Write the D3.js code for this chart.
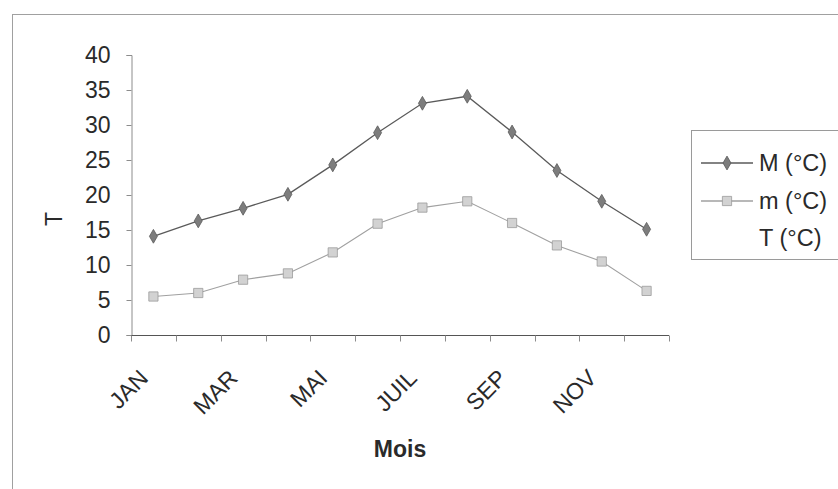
<!DOCTYPE html>
<html>
<head>
<meta charset="utf-8">
<script src="https://cdn.jsdelivr.net/npm/d3@7/dist/d3.min.js"></script>
<style>
  html, body { margin: 0; padding: 0; background: #fff; }
  svg { display: block; font-family: "Liberation Sans", Arial, sans-serif; }
</style>
</head>
<body>
<svg id="chart" width="838" height="489"></svg>
<script>
// Monthly temperatures (°C)
const months = ["JAN", "FEV", "MAR", "AVR", "MAI", "JUIN", "JUIL", "AOUT", "SEP", "OCT", "NOV", "DEC"];
const maxTemps = [14.1, 16.3, 18.1, 20.1, 24.3, 28.9, 33.1, 34.1, 29.0, 23.5, 19.1, 15.1];
const minTemps = [5.5, 6.0, 7.9, 8.8, 11.8, 15.9, 18.2, 19.1, 16.0, 12.8, 10.5, 6.3];
const yTicks = [0, 5, 10, 15, 20, 25, 30, 35, 40];
const seriesNames = ["M (°C)", "m (°C)", "T (°C)"];

const svg = d3.select("#chart");

// outer chart frame
svg.append("rect")
  .attr("x", 12.5).attr("y", 14.5)
  .attr("width", 900).attr("height", 600)
  .attr("fill", "none").attr("stroke", "#a0a0a0").attr("stroke-width", 1);

const plot = { left: 131, right: 669, top: 55, bottom: 335 };

const x = d3.scaleBand().domain(months).range([plot.left, plot.right]).padding(0);
const y = d3.scaleLinear().domain([0, 40]).range([plot.bottom, plot.top]);
const cx = d => x(d) + x.bandwidth() / 2;

// y axis
const yAxis = svg.append("g")
  .attr("transform", `translate(${plot.left + 0.5},0)`)
  .call(d3.axisLeft(y).tickValues(yTicks).tickSize(5).tickPadding(16));
yAxis.select(".domain").attr("stroke", "#8c8c8c");
yAxis.selectAll(".tick line").attr("stroke", "#8c8c8c");
yAxis.selectAll(".tick text")
  .attr("font-size", 23).attr("fill", "#2a2a2a")
  .attr("font-family", "Liberation Sans, Arial, sans-serif");

// x axis: ticks at category boundaries
const xg = svg.append("g").attr("transform", `translate(0,${plot.bottom + 0.5})`);
xg.append("line")
  .attr("x1", plot.left).attr("x2", plot.right)
  .attr("stroke", "#555").attr("stroke-width", 1.2);
const bounds = months.map(m => x(m)).concat([plot.right]);
xg.selectAll("line.tk").data(bounds).join("line")
  .attr("class", "tk")
  .attr("x1", d => Math.round(d) + 0.5).attr("x2", d => Math.round(d) + 0.5)
  .attr("y1", 0).attr("y2", 6)
  .attr("stroke", "#8c8c8c");
xg.selectAll("text").data(months.filter((m, i) => i % 2 === 0)).join("text")
  .attr("transform", d => `translate(${cx(d) - 4},44) rotate(-45)`)
  .attr("text-anchor", "end")
  .attr("font-size", 23).attr("fill", "#2a2a2a")
  .text(d => d);

// axis titles
svg.append("text")
  .attr("x", 400).attr("y", 457)
  .attr("text-anchor", "middle")
  .attr("font-size", 23).attr("font-weight", "bold").attr("fill", "#2a2a2a")
  .text("Mois");
svg.append("text")
  .attr("transform", "translate(62,219) rotate(-90)")
  .attr("text-anchor", "middle")
  .attr("font-size", 23).attr("fill", "#2a2a2a")
  .text("T");

// lines
const line = d3.line().x((d, i) => cx(months[i])).y(d => y(d));

svg.append("path").datum(maxTemps)
  .attr("d", line).attr("fill", "none")
  .attr("stroke", "#5a5a5a").attr("stroke-width", 1.3);
svg.append("path").datum(minTemps)
  .attr("d", line).attr("fill", "none")
  .attr("stroke", "#a0a0a0").attr("stroke-width", 1.1);

const diamond = d3.symbol().type(d3.symbolDiamond).size(55);
const square = d3.symbol().type(d3.symbolSquare).size(85);

svg.append("g").selectAll("path").data(maxTemps).join("path")
  .attr("transform", (d, i) => `translate(${cx(months[i])},${y(d)})`)
  .attr("d", diamond)
  .attr("fill", "#7d7d7d").attr("stroke", "#5a5a5a").attr("stroke-width", 0.8);
svg.append("g").selectAll("path").data(minTemps).join("path")
  .attr("transform", (d, i) => `translate(${cx(months[i])},${y(d)})`)
  .attr("d", square)
  .attr("fill", "#d2d2d2").attr("stroke", "#9a9a9a").attr("stroke-width", 0.8);

// legend
const lg = svg.append("g").attr("transform", "translate(691,130)");
lg.append("rect")
  .attr("x", 0.5).attr("y", 0.5).attr("width", 200).attr("height", 129)
  .attr("fill", "#fff").attr("stroke", "#9a9a9a");
const rowsY = [33, 71, 108];
const styles = [
  { stroke: "#5a5a5a", sym: diamond, fill: "#7d7d7d", mstroke: "#5a5a5a" },
  { stroke: "#a0a0a0", sym: square, fill: "#d2d2d2", mstroke: "#9a9a9a" },
  null
];
seriesNames.forEach((name, i) => {
  const s = styles[i];
  if (s) {
    lg.append("line")
      .attr("x1", 10).attr("x2", 62).attr("y1", rowsY[i]).attr("y2", rowsY[i])
      .attr("stroke", s.stroke).attr("stroke-width", 1.3);
    lg.append("path")
      .attr("transform", `translate(36,${rowsY[i]})`)
      .attr("d", s.sym)
      .attr("fill", s.fill).attr("stroke", s.mstroke).attr("stroke-width", 0.8);
  }
  lg.append("text")
    .attr("x", 68).attr("y", rowsY[i] + 8)
    .attr("font-size", 23.5).attr("fill", "#2a2a2a")
    .text(name);
});
</script>
</body>
</html>
